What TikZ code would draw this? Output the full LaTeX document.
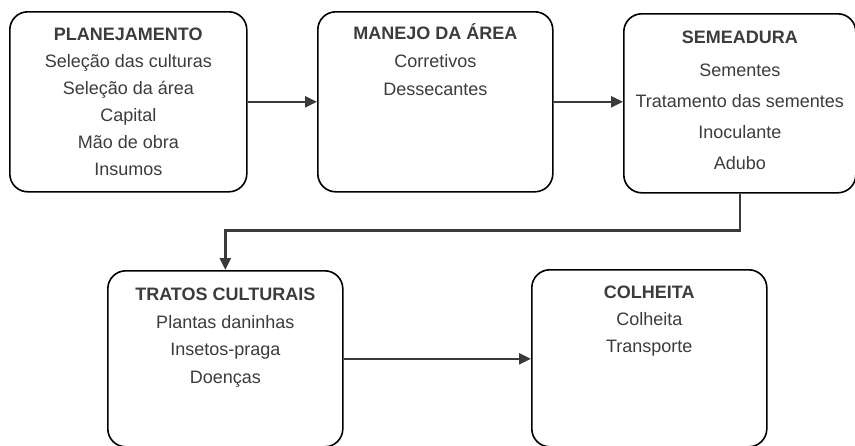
\documentclass[tikz,border=0pt]{standalone}
\usepackage{fontspec}
\setmainfont{Liberation Sans}
\usetikzlibrary{arrows.meta}

\definecolor{texto}{HTML}{3C3C3C}
\definecolor{seta}{HTML}{3A3A3A}

% box contents: width, height, line spacing, gap on top, text
\newcommand{\etapa}[5]{%
    \begin{minipage}[t][#2][t]{#1}\centering
        \fontsize{18}{#3}\selectfont\color{texto}
        \vspace*{#4}\strut#5
    \end{minipage}}

\begin{document}
\begin{tikzpicture}[x=1pt,y=-1pt]

% Define box and connector style
\tikzstyle{caixa} = [draw=black, fill=white, line width=1.6pt,
    rectangle, rounded corners=18pt, inner sep=0pt, anchor=north west]
\tikzstyle{fluxo} = [draw=seta, line width=2.4pt,
    -{Triangle[length=12pt,width=11pt]}]

\useasboundingbox (0,0) rectangle (855,445);

\node [caixa] (planejamento) at (9,11) {%
    \etapa{237pt}{180pt}{27pt}{9.4pt}{%
        \textbf{PLANEJAMENTO}\\
        Seleção das culturas\\
        Seleção da área\\
        Capital\\
        Mão de obra\\
        Insumos}
};

\node [caixa] (manejo) at (317,11) {%
    \etapa{235pt}{180pt}{28pt}{8.4pt}{%
        \textbf{MANEJO DA ÁREA}\\
        Corretivos\\
        Dessecantes}
};

\node [caixa] (semeadura) at (623,13) {%
    \etapa{232pt}{179pt}{31pt}{8.3pt}{%
        \textbf{SEMEADURA}\\[2pt]
        Sementes\\
        Tratamento das sementes\\
        Inoculante\\
        Adubo}
};

\node [caixa] (tratos) at (107,270) {%
    \etapa{235pt}{176pt}{27.5pt}{10.7pt}{%
        \textbf{TRATOS CULTURAIS}\\
        Plantas daninhas\\
        Insetos-praga\\
        Doenças}
};

\node [caixa] (colheita) at (531,269) {%
    \etapa{235pt}{177pt}{27pt}{10pt}{%
        \textbf{COLHEITA}\\
        Colheita\\
        Transporte}
};

% connectors
\draw [fluxo] (planejamento.east) -- (manejo.west);
\draw [fluxo] (manejo.east) -- (manejo.east -| semeadura.west);
\draw [fluxo] (semeadura.south) -- ++(0,37) -| (tratos.north);
\draw [fluxo] (tratos.east) -- (tratos.east -| colheita.west);

\end{tikzpicture}
\end{document}
